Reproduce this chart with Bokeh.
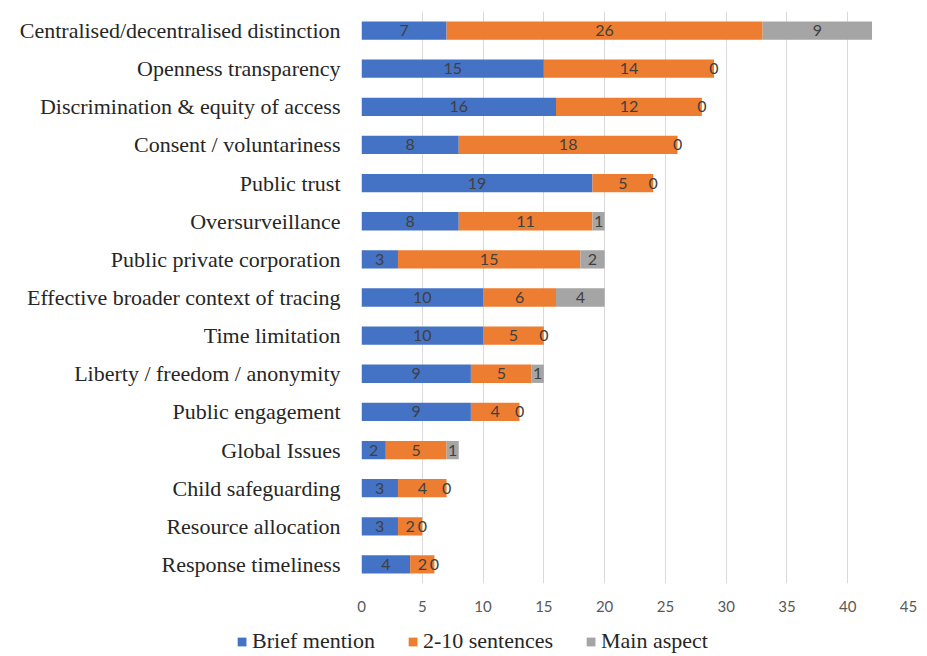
from bokeh.plotting import figure
from bokeh.models import ColumnDataSource, FactorRange, Legend, LegendItem
from bokeh.layouts import column, row
from bokeh.core.properties import value
from bokeh.embed import file_html
from bokeh.resources import INLINE
import numpy as np

categories = [
    "Centralised/decentralised distinction",
    "Openness transparency",
    "Discrimination & equity of access",
    "Consent / voluntariness",
    "Public trust",
    "Oversurveillance",
    "Public private corporation",
    "Effective broader context of tracing",
    "Time limitation",
    "Liberty / freedom / anonymity",
    "Public engagement",
    "Global Issues",
    "Child safeguarding",
    "Resource allocation",
    "Response timeliness",
]
brief_mention = [7, 15, 16, 8, 19, 8, 3, 10, 10, 9, 9, 2, 3, 3, 4]
sentences_2_10 = [26, 14, 12, 18, 5, 11, 15, 6, 5, 5, 4, 5, 4, 2, 2]
main_aspect = [9, 0, 0, 0, 0, 1, 2, 4, 0, 1, 0, 1, 0, 0, 0]
series_names = ["Brief mention", "2-10 sentences", "Main aspect"]
series_colors = ["#4472C4", "#ED7D31", "#A5A5A5"]
x_ticks = [0, 5, 10, 15, 20, 25, 30, 35, 40, 45]

series = [np.array(brief_mention), np.array(sentences_2_10), np.array(main_aspect)]

p = figure(
    width=927, height=626,
    y_range=FactorRange(*categories[::-1]),
    x_range=(0, 45),
    output_backend="svg", toolbar_location=None,
    min_border_left=361, min_border_right=19,
    min_border_top=11, min_border_bottom=43,
)
p.outline_line_color = None
p.background_fill_color = "white"
p.border_fill_color = "white"

left = np.zeros(len(categories))
label_x, label_y, label_t = [], [], []
for vals, name, col in zip(series, series_names, series_colors):
    right = left + vals
    src = ColumnDataSource(dict(y=categories, left=left, right=right))
    p.hbar(y="y", left="left", right="right", height=0.48, source=src,
           fill_color=col, line_color=None)
    for c, l, v in zip(categories, left, vals):
        label_x.append(l + v / 2.0)
        label_y.append(c)
        label_t.append(str(int(v)))
    left = right

lsrc = ColumnDataSource(dict(x=label_x, y=label_y, t=label_t))
p.text(x="x", y="y", text="t", source=lsrc, text_align="center",
       text_baseline="middle", text_font=value("Lato"),
       text_font_size="16px", text_color="#404040")

p.xaxis.ticker = x_ticks
p.xaxis.axis_line_color = None
p.xaxis.major_tick_line_color = None
p.xaxis.minor_tick_line_color = None
p.xaxis.major_label_text_font = "Lato"
p.xaxis.major_label_text_font_size = "15px"
p.xaxis.major_label_text_color = "#595959"
p.xaxis.major_label_standoff = 11

p.yaxis.axis_line_color = None
p.yaxis.major_tick_line_color = None
p.yaxis.minor_tick_line_color = None
p.yaxis.major_label_text_font = "Liberation Serif"
p.yaxis.major_label_text_font_size = "22px"
p.yaxis.major_label_text_color = "#262626"
p.yaxis.major_label_standoff = 15

p.xgrid.grid_line_color = "#D9D9D9"
p.xgrid.grid_line_width = 1
p.ygrid.grid_line_color = None

# legend strip
p2 = figure(width=927, height=30, x_range=(0, 1), y_range=(0, 1),
            x_axis_location=None, y_axis_location=None,
            output_backend="svg", toolbar_location=None,
            min_border_left=17, min_border_right=0,
            min_border_top=0, min_border_bottom=0)
p2.grid.visible = False
p2.outline_line_color = None
items = []
for name, col in zip(series_names, series_colors):
    r = p2.hbar(y=[-5], left=[0], right=[0.1], height=0.5, fill_color=col, line_color=None)
    items.append(LegendItem(label=name, renderers=[r]))
legend = Legend(
    items=items, orientation="horizontal", location="center",
    label_text_font="Liberation Serif", label_text_font_size="22px",
    label_text_color="#262626", glyph_width=11, glyph_height=11,
    label_standoff=5, spacing=32, padding=0, margin=0,
    border_line_color=None, background_fill_alpha=0,
)
p2.add_layout(legend, "center")

layout = column(p, row(p2, spacing=0), spacing=0)
open("out.html", "w").write(file_html(layout, INLINE))
